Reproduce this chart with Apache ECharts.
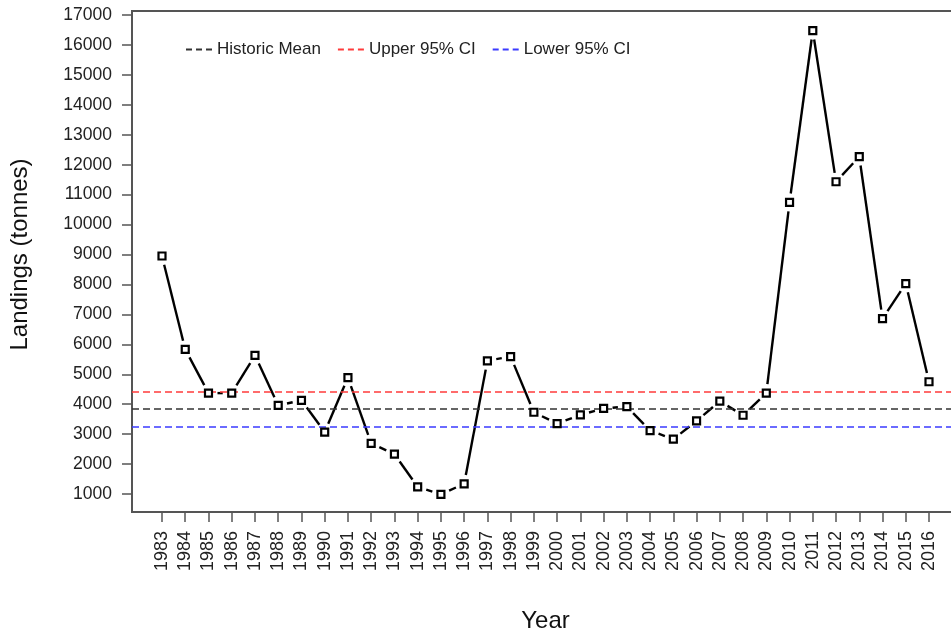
<!DOCTYPE html>
<html>
<head>
<meta charset="utf-8">
<title>Landings</title>
<script src="https://cdn.jsdelivr.net/npm/echarts@6/dist/echarts.min.js"></script>
<style>
  html, body { margin: 0; padding: 0; background: #fff; }
  #chart { width: 951px; height: 635px; }
</style>
</head>
<body>
<div id="chart"></div>
<script>
// data
const years = ['1983', '1984', '1985', '1986', '1987', '1988', '1989', '1990', '1991', '1992',
  '1993', '1994', '1995', '1996', '1997', '1998', '1999', '2000', '2001', '2002', '2003',
  '2004', '2005', '2006', '2007', '2008', '2009', '2010', '2011', '2012', '2013', '2014',
  '2015', '2016'];
const landings = [8950, 5830, 4370, 4370, 5630, 3960, 4130, 3070, 4890, 2690,
  2330, 1240, 990, 1340, 5450, 5590, 3730, 3350, 3640, 3860, 3920,
  3120, 2830, 3440, 4100, 3630, 4370, 10740, 16480, 11430, 12270, 6860,
  8030, 4750];
const refNames = ['Historic Mean', 'Upper 95% CI', 'Lower 95% CI'];
const refValues = [3864, 4418, 3249];
const refColors = ['#333333', '#ff3b3b', '#3b3bff'];

// layout (px): inner data area runs from 1983..2016 and 1000..17000,
// the frame box is a bit wider like R's default 4% padding
const yMin = 1000, yMax = 17000;
const plotTop = 15, plotBottom = 494, plotLeft = 162, plotRight = 929;
const boxTop = 11, boxBottom = 512, boxLeft = 132, boxRight = 960;
const W = 951, H = 635;
const unitsPerPx = (yMax - yMin) / (plotBottom - plotTop);
const boxMin = yMin - (boxBottom - plotBottom) * unitsPerPx;
const boxMax = yMax + (plotTop - boxTop) * unitsPerPx;

const font = 'Liberation Sans, Arial, sans-serif';
const frameColor = '#555';
const gapPx = 9; // R type "b": segments stop short of the points
// three short dashes for the legend keys
const dashIcon = 'path://M0,0H6V2H0Z M10,0H16V2H10Z M20,0H26V2H20Z';

const chart = echarts.init(document.getElementById('chart'));

const refSeries = refNames.map((name, i) => ({
  name: name,
  type: 'line',
  xAxisIndex: 1,
  yAxisIndex: 1,
  data: [],
  symbol: 'none',
  z: 4,
  itemStyle: { color: refColors[i] },
  lineStyle: { color: refColors[i], width: 1.5, type: [7, 4] },
  markLine: {
    silent: true,
    symbol: 'none',
    label: { show: false },
    lineStyle: { color: refColors[i], width: 1.5, type: [7, 4] },
    data: [{ yAxis: refValues[i] }]
  }
}));

// one shortened segment from each point to the next one
function renderSegment(params, api) {
  const i = params.dataIndex;
  if (i >= landings.length - 1) return null;
  const p0 = api.coord([i, landings[i]]);
  const p1 = api.coord([i + 1, landings[i + 1]]);
  const dx = p1[0] - p0[0], dy = p1[1] - p0[1];
  const len = Math.sqrt(dx * dx + dy * dy);
  if (len <= 2 * gapPx) return null;
  const ux = dx / len, uy = dy / len;
  return {
    type: 'line',
    shape: {
      x1: p0[0] + ux * gapPx, y1: p0[1] + uy * gapPx,
      x2: p1[0] - ux * gapPx, y2: p1[1] - uy * gapPx
    },
    style: { stroke: '#000', lineWidth: 2.4 }
  };
}

chart.setOption({
  animation: false,
  backgroundColor: '#fff',
  legend: {
    data: refNames.map(n => ({ name: n, icon: dashIcon })),
    left: 181,
    top: 36,
    itemWidth: 26,
    itemHeight: 2,
    itemGap: 17,
    textStyle: { fontFamily: font, fontSize: 17, color: '#222' }
  },
  grid: [
    {
      left: plotLeft, right: W - plotRight, top: plotTop, bottom: H - plotBottom,
      outerBoundsMode: 'none'
    },
    {
      left: boxLeft, right: W - boxRight, top: boxTop, bottom: H - boxBottom,
      outerBoundsMode: 'none',
      show: true, borderColor: frameColor, borderWidth: 2, backgroundColor: 'transparent'
    }
  ],
  xAxis: [
    {
      type: 'category',
      gridIndex: 0,
      data: years,
      boundaryGap: false,
      offset: boxBottom - plotBottom,
      axisLine: { show: false },
      axisTick: { show: true, length: 10, alignWithLabel: true, lineStyle: { color: frameColor, width: 1.5 } },
      axisLabel: {
        rotate: 90, interval: 0, margin: 19,
        fontFamily: font, fontSize: 18, color: '#222'
      },
      splitLine: { show: false },
      name: 'Year',
      nameLocation: 'middle',
      nameGap: 97,
      nameTextStyle: { fontFamily: font, fontSize: 24, color: '#111' }
    },
    { type: 'value', gridIndex: 1, min: 0, max: 1, show: false }
  ],
  yAxis: [
    {
      type: 'value',
      gridIndex: 0,
      min: yMin,
      max: yMax,
      interval: 1000,
      offset: plotLeft - boxLeft,
      axisLine: { show: false },
      axisTick: { show: true, length: 10, lineStyle: { color: frameColor, width: 1.5 } },
      axisLabel: {
        margin: 20, fontFamily: font, fontSize: 17.5, color: '#222',
        formatter: v => String(v)
      },
      splitLine: { show: false },
      name: 'Landings (tonnes)',
      nameLocation: 'middle',
      nameGap: 100,
      nameTextStyle: { fontFamily: font, fontSize: 24, color: '#111' }
    },
    { type: 'value', gridIndex: 1, min: boxMin, max: boxMax, show: false }
  ],
  series: [
    {
      name: 'Landings',
      type: 'custom',
      data: landings.map((v, i) => [i, v]),
      renderItem: renderSegment,
      clip: false,
      silent: true,
      z: 2
    },
    ...refSeries,
    {
      name: 'points',
      type: 'scatter',
      data: landings,
      clip: false,
      symbol: 'rect',
      symbolSize: 7,
      z: 5,
      itemStyle: { color: '#fff', borderColor: '#000', borderWidth: 2.2, opacity: 1 }
    }
  ]
});
</script>
</body>
</html>
